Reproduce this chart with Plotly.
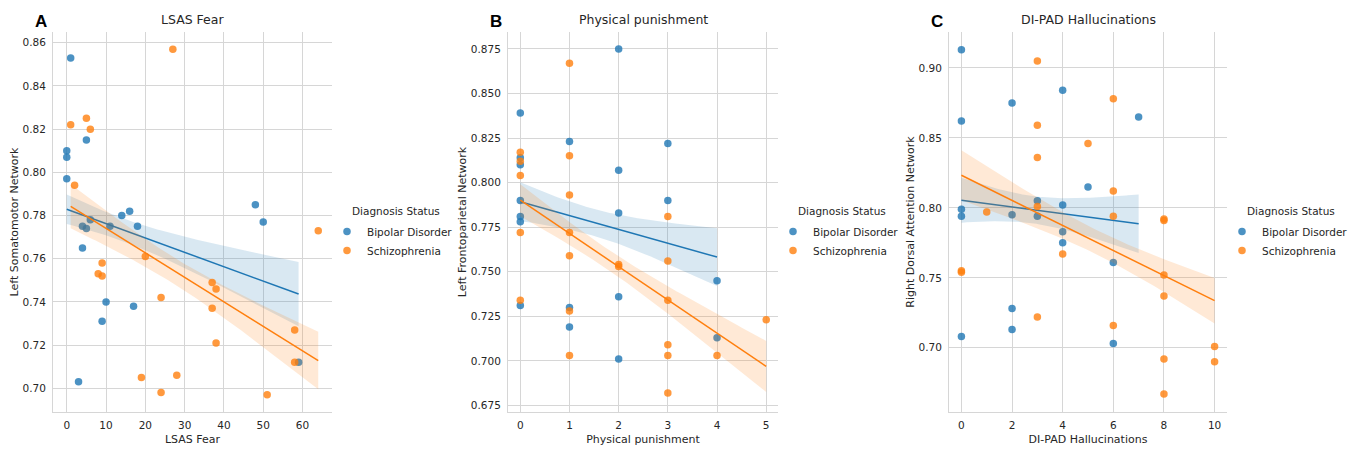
import numpy as np
import plotly.graph_objects as go

W, H = 1355, 452

# ---------------- Data ----------------
groups = ["Bipolar Disorder", "Schizophrenia"]

# Panel A: LSAS Fear vs Left Somatomotor Network
a_bd_x = [1, 0, 0, 0, 5, 4, 5, 6, 4, 11, 14, 16, 18, 10, 17, 9, 3, 48, 50, 59]
a_bd_y = [0.853, 0.810, 0.807, 0.797, 0.815, 0.775, 0.774, 0.778, 0.765, 0.775,
          0.780, 0.782, 0.775, 0.740, 0.738, 0.731, 0.703, 0.785, 0.777, 0.712]
a_sz_x = [27, 1, 5, 6, 2, 9, 8, 9, 20, 24, 37, 38, 37, 38, 19, 28, 24, 51, 58, 58, 64]
a_sz_y = [0.857, 0.822, 0.825, 0.820, 0.794, 0.758, 0.753, 0.752, 0.761, 0.742,
          0.749, 0.746, 0.737, 0.721, 0.705, 0.706, 0.698, 0.697, 0.727, 0.712, 0.773]

# Panel B: Physical punishment vs Left Frontoparietal Network
b_bd_x = [2, 0, 1, 3, 0, 0, 2, 0, 3, 2, 0, 0, 4, 2, 0, 1, 1, 2, 4]
b_bd_y = [0.875, 0.839, 0.823, 0.822, 0.814, 0.810, 0.807, 0.790, 0.790, 0.783,
          0.781, 0.778, 0.745, 0.736, 0.731, 0.730, 0.719, 0.701, 0.713]
b_sz_x = [1, 1, 0, 0, 0, 1, 3, 0, 1, 1, 2, 2, 3, 0, 1, 3, 3, 3, 1, 4, 3, 5]
b_sz_y = [0.867, 0.815, 0.817, 0.812, 0.804, 0.793, 0.781, 0.772, 0.772, 0.759,
          0.754, 0.753, 0.756, 0.734, 0.728, 0.734, 0.709, 0.703, 0.703, 0.703,
          0.682, 0.723]

# Panel C: DI-PAD Hallucinations vs Right Dorsal Attention Network
c_bd_x = [0, 0, 0, 0, 0, 2, 2, 2, 2, 3, 3, 4, 4, 4, 4, 5, 6, 6, 7]
c_bd_y = [0.913, 0.862, 0.799, 0.794, 0.708, 0.875, 0.795, 0.728, 0.713, 0.805,
          0.794, 0.884, 0.802, 0.783, 0.775, 0.815, 0.761, 0.703, 0.865]
c_sz_x = [3, 3, 3, 3, 3, 1, 0, 0, 4, 5, 6, 6, 6, 6, 8, 8, 8, 8, 8, 8, 10, 10]
c_sz_y = [0.905, 0.859, 0.836, 0.801, 0.722, 0.797, 0.755, 0.754, 0.767, 0.846,
          0.878, 0.812, 0.794, 0.716, 0.792, 0.791, 0.752, 0.737, 0.692, 0.667,
          0.701, 0.690]

titles = ["LSAS Fear", "Physical punishment", "DI-PAD Hallucinations"]
ylabels = ["Left Somatomotor Network", "Left Frontoparietal Network",
           "Right Dorsal Attention Network"]
letters = ["A", "B", "C"]

x_ticks = [[0, 10, 20, 30, 40, 50, 60], [0, 1, 2, 3, 4, 5], [0, 2, 4, 6, 8, 10]]
y_ticks = [[0.70, 0.72, 0.74, 0.76, 0.78, 0.80, 0.82, 0.84, 0.86],
           [0.675, 0.700, 0.725, 0.750, 0.775, 0.800, 0.825, 0.850, 0.875],
           [0.70, 0.75, 0.80, 0.85, 0.90]]
y_fmt = [".2f", ".3f", ".2f"]

panels = [
    ((a_bd_x, a_bd_y), (a_sz_x, a_sz_y)),
    ((b_bd_x, b_bd_y), (b_sz_x, b_sz_y)),
    ((c_bd_x, c_bd_y), (c_sz_x, c_sz_y)),
]

# ---------------- Style ----------------
colors = ["#1f77b4", "#ff7f0e"]
bands = ["rgba(31,119,180,0.17)", "rgba(255,127,14,0.17)"]
FONT = "DejaVu Sans"
TXT = "#262626"
GRID = "#d6d6d6"
CI_MULT = 0.68

# pixel layout of the three plot areas
x_px = [(53, 332), (508, 778), (949, 1227)]
y_px = (32, 412)
x_rng = [(-3.5, 67.5), (-0.25, 5.24), (-0.49, 10.49)]
y_rng = [(0.689, 0.865), (0.6713, 0.8845), (0.6541, 0.9257)]


def fit(x, y):
    x = np.asarray(x, float)
    y = np.asarray(y, float)
    b, a = np.polyfit(x, y, 1)
    xs = np.linspace(x.min(), x.max(), 100)
    yh = a + b * xs
    n = len(x)
    res = y - (a + b * x)
    s = np.sqrt(np.sum(res ** 2) / (n - 2))
    xm = x.mean()
    sxx = np.sum((x - xm) ** 2)
    se = s * np.sqrt(1.0 / n + (xs - xm) ** 2 / sxx)
    return xs, yh, yh - CI_MULT * se, yh + CI_MULT * se


fig = go.Figure()
annotations = []

for p, grp in enumerate(panels):
    sfx = "" if p == 0 else str(p + 1)
    xa, ya = "x" + sfx, "y" + sfx
    leg = "legend" + sfx
    for g, (xv, yv) in enumerate(grp):
        fig.add_trace(go.Scatter(
            x=xv, y=yv, mode="markers", name=groups[g],
            marker=dict(color=colors[g], size=7.5, opacity=0.8, line=dict(width=0)),
            xaxis=xa, yaxis=ya, legend=leg, showlegend=True))
        xs, yh, lo, hi = fit(xv, yv)
        fig.add_trace(go.Scatter(
            x=np.concatenate([xs, xs[::-1]]), y=np.concatenate([hi, lo[::-1]]),
            fill="toself", fillcolor=bands[g], line=dict(width=0),
            mode="lines", hoverinfo="skip", showlegend=False, xaxis=xa, yaxis=ya))
        fig.add_trace(go.Scatter(
            x=xs, y=yh, mode="lines", line=dict(color=colors[g], width=1.5),
            hoverinfo="skip", showlegend=False, xaxis=xa, yaxis=ya))

    x0, x1 = x_px[p]
    common = dict(showgrid=True, gridcolor=GRID, gridwidth=1, zeroline=False,
                  showline=True, linecolor=GRID, linewidth=1,
                  ticks="outside", tickcolor="rgba(0,0,0,0)",
                  tickfont=dict(family=FONT, size=10.5, color=TXT))
    fig.update_layout(**{
        "xaxis" + sfx: dict(domain=[x0 / W, x1 / W], range=list(x_rng[p]),
                            tickvals=x_ticks[p], anchor=ya, ticklen=3,
                            title=dict(text=titles[p], standoff=5,
                                       font=dict(family=FONT, size=11, color=TXT)),
                            **common),
        "yaxis" + sfx: dict(domain=[1 - y_px[1] / H, 1 - y_px[0] / H],
                            range=list(y_rng[p]), tickvals=y_ticks[p], ticklen=4,
                            tickformat=y_fmt[p], anchor=xa,
                            title=dict(text=ylabels[p], standoff=1,
                                       font=dict(family=FONT, size=11, color=TXT)),
                            **common),
    })
    cx = (x0 + x1) / 2
    annotations.append(dict(x=cx / W, y=1 - 19 / H, xref="paper", yref="paper",
                            xanchor="center", yanchor="middle",
                            text=titles[p], showarrow=False,
                            font=dict(family=FONT, size=12.5, color=TXT)))
    annotations.append(dict(x=(x0 - 12) / W, y=1 - 22 / H, xref="paper", yref="paper",
                            xanchor="center", yanchor="middle",
                            text="<b>" + letters[p] + "</b>", showarrow=False,
                            font=dict(family="Liberation Sans", size=17, color="black")))
    annotations.append(dict(x=(x1 + 18) / W, y=1 - 211 / H, xref="paper", yref="paper",
                            xanchor="left", yanchor="middle",
                            text="Diagnosis Status", showarrow=False,
                            font=dict(family=FONT, size=10.5, color=TXT)))
    fig.update_layout(**{
        leg: dict(x=(x1 - 5) / W, y=1 - 217 / H, xanchor="left", yanchor="top",
                  bgcolor="rgba(0,0,0,0)", tracegroupgap=0,
                  font=dict(family=FONT, size=10.5, color=TXT))
    })

fig.update_layout(width=W, height=H, margin=dict(l=0, r=0, t=0, b=0),
                  paper_bgcolor="white", plot_bgcolor="white",
                  annotations=annotations, showlegend=True)

fig.write_html("out.html", config={"displayModeBar": False},
               post_script="document.body.style.margin='0';"
                           "document.body.style.overflow='hidden';")
